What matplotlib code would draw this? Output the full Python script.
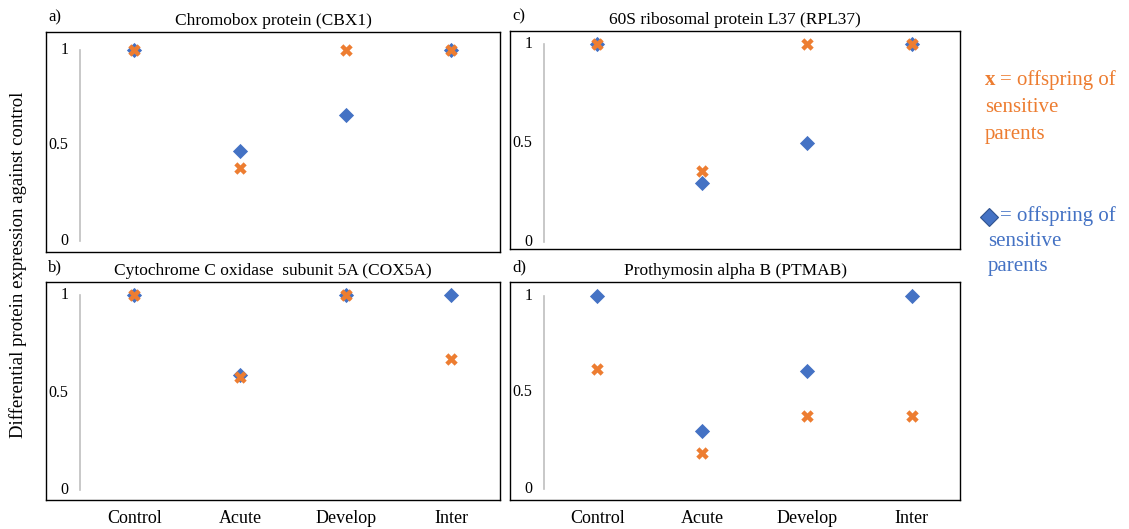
import matplotlib
matplotlib.use("Agg")
import matplotlib.pyplot as plt
from matplotlib.lines import Line2D

plt.rcParams['font.family'] = ['Liberation Serif', 'DejaVu Serif']

W, H = 1129, 529
BLUE = '#4472C4'
ORANGE = '#ED7D31'

# Data
categories = ['Control', 'Acute', 'Develop', 'Inter']
titles = ['Chromobox protein (CBX1)', '60S ribosomal protein L37 (RPL37)',
          'Cytochrome C oxidase  subunit 5A (COX5A)', 'Prothymosin alpha B (PTMAB)']
letters = ['a)', 'c)', 'b)', 'd)']
blue_vals = [
    [1.0, 0.47, 0.66, 1.0],   # CBX1
    [1.0, 0.30, 0.50, 1.0],   # RPL37
    [1.0, 0.59, 1.0, 1.0],    # COX5A
    [1.0, 0.30, 0.61, 1.0],   # PTMAB
]
orange_vals = [
    [1.0, 0.38, 1.0, 1.0],
    [1.0, 0.36, 1.0, 1.0],
    [1.0, 0.58, 1.0, 0.67],
    [0.62, 0.19, 0.38, 0.38],
]
yticks = [0, 0.5, 1]
ytick_labels = ['0', '0.5', '1']

# panel boxes in pixels: left, top, right, bottom, ylim
boxes = [
    (46, 32, 500, 252, (-0.058, 1.094)),
    (510, 31, 960, 249, (-0.035, 1.066)),
    (46, 282, 500, 500, (-0.05, 1.067)),
    (510, 282, 960, 500, (-0.055, 1.07)),
]

fig = plt.figure(figsize=(W / 100, H / 100), dpi=100)

for i, (l, t, r, b, ylim) in enumerate(boxes):
    ax = fig.add_axes([l / W, 1 - b / H, (r - l) / W, (b - t) / H])
    x = list(range(len(categories)))
    ax.scatter(x, blue_vals[i], marker='D', s=60, color=BLUE, zorder=3, linewidths=0)
    ax.scatter(x, orange_vals[i], marker='X', s=80, color=ORANGE, zorder=4, linewidths=0)
    ax.set_xlim(-0.835, 3.46)
    ax.set_ylim(*ylim)
    ax.plot([-0.51, -0.51], [0, 1], color='#BFBFBF', lw=1.2, zorder=1)
    for v, s in zip(yticks, ytick_labels):
        ax.text(-0.62, v, s, ha='right', va='center', fontsize=11.5)
    ax.set_yticks([])
    if i >= 2:
        ax.set_xticks(x)
        ax.set_xticklabels(categories, fontsize=13)
        ax.tick_params(axis='x', length=0, pad=7)
    else:
        ax.set_xticks([])
    for sp in ax.spines.values():
        sp.set_linewidth(1.0)
        sp.set_color('black')
    ax.set_title(titles[i], fontsize=12.5, pad=5)
    ax.text(0.005, 1.03, letters[i], transform=ax.transAxes, fontsize=12,
            ha='left', va='bottom')

fig.text(18 / W, 1 - 265 / H, 'Differential protein expression against control',
         rotation=90, ha='center', va='center', fontsize=13.5)

# legend text on the right
fig.text(985 / W, 1 - 80 / H, 'x', color=ORANGE, fontsize=15, fontweight='bold',
         ha='left', va='center')
fig.text(1000 / W, 1 - 80 / H, '= offspring of', color=ORANGE, fontsize=15,
         ha='left', va='center')
fig.text(985 / W, 1 - 108 / H, 'sensitive', color=ORANGE, fontsize=15, ha='left', va='center')
fig.text(985 / W, 1 - 134 / H, 'parents', color=ORANGE, fontsize=15, ha='left', va='center')

fig.add_artist(Line2D([989 / W], [1 - 217 / H], transform=fig.transFigure, marker='D',
                      markersize=9, color=BLUE, markeredgecolor='#2F528F', markeredgewidth=0.8))
fig.text(1000 / W, 1 - 216 / H, '= offspring of', color=BLUE, fontsize=15, ha='left', va='center')
fig.text(988 / W, 1 - 242 / H, 'sensitive', color=BLUE, fontsize=15, ha='left', va='center')
fig.text(988 / W, 1 - 267 / H, 'parents', color=BLUE, fontsize=15, ha='left', va='center')

fig.savefig('out.png', dpi=100)
